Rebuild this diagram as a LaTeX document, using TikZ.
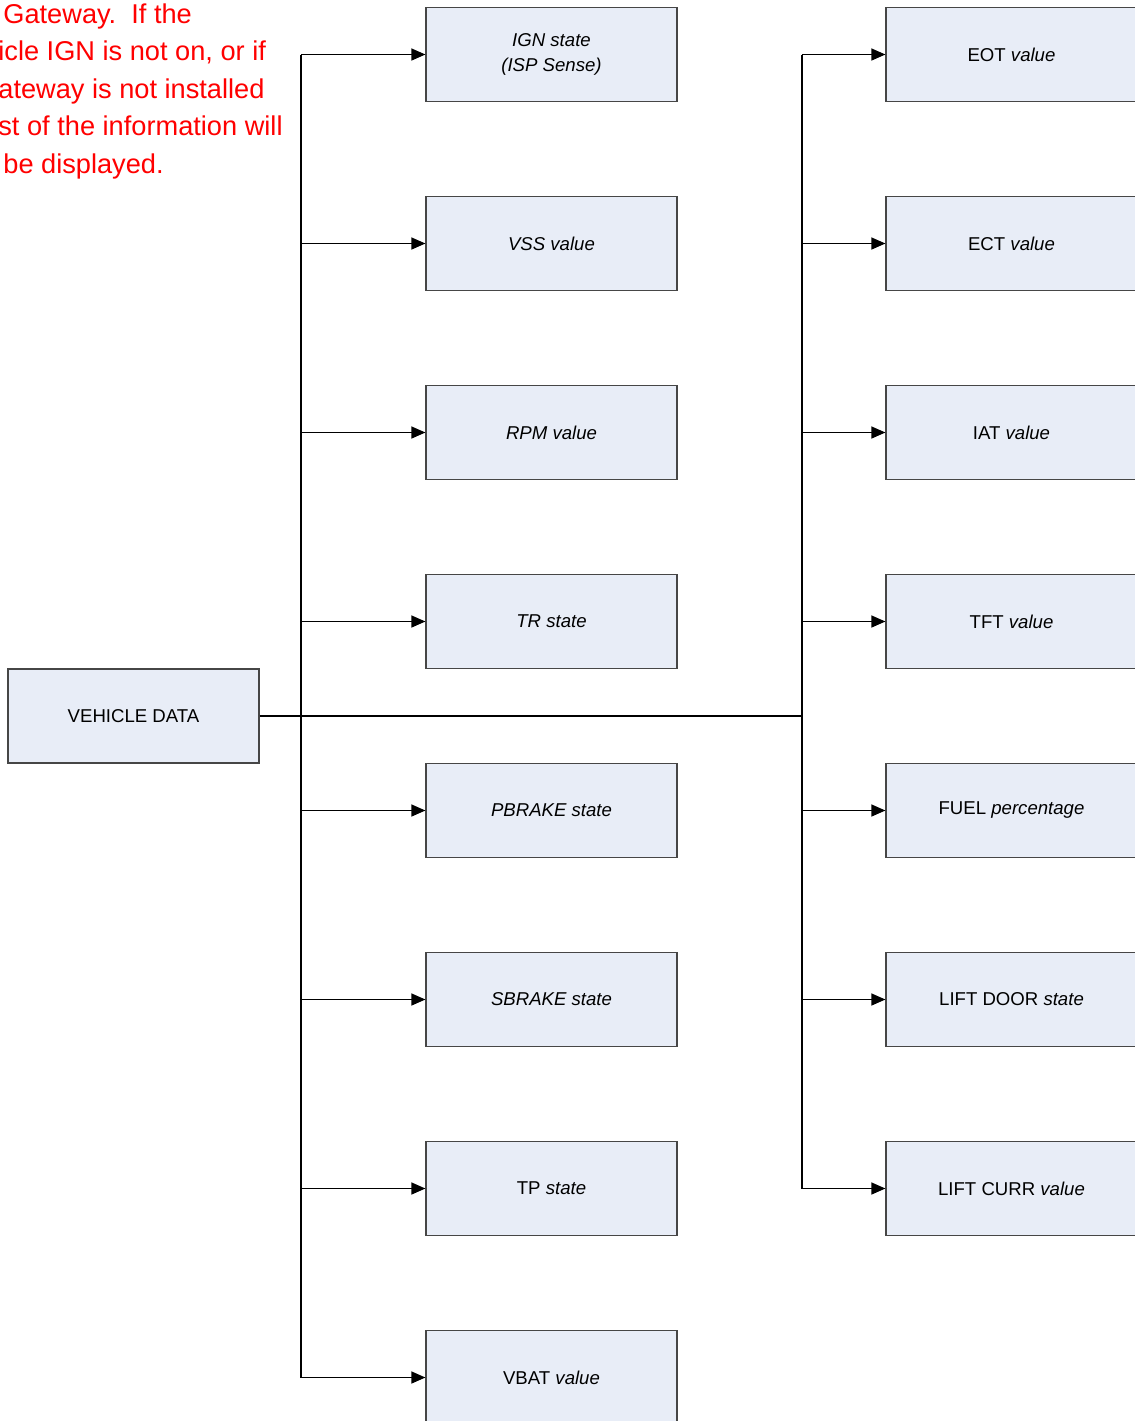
\documentclass[tikz,border=0pt]{standalone}
\usepackage{fontspec}
\setmainfont{Liberation Sans}
\usetikzlibrary{arrows.meta}

\definecolor{boxfill}{RGB}{232,237,247}
\definecolor{boxline}{RGB}{70,70,70}
\definecolor{notered}{RGB}{255,0,0}

\tikzset{
	databox/.style={draw=boxline, fill=boxfill, line width=0.6pt, minimum width=125.5pt, minimum height=47pt, inner sep=0pt, align=center, font=\fontsize{9.3}{12.5}\selectfont},
	bus/.style={line width=0.65pt},
	feed/.style={line width=0.65pt, -{Triangle[length=7pt, width=6pt]}}
}

\begin{document}
\begin{tikzpicture}[x=0.5pt, y=-0.5pt]
			%%%%% START %%%%%
			
			\useasboundingbox (0, 0) rectangle (1135, 1421);
			\clip (0, 0) rectangle (1135, 1421);
			
			% note (cut off on the left)
			\node[anchor=north west, inner sep=0pt, align=left, text=notered, font=\fontsize{13.6}{18.75}\selectfont] (note) at (-2, 3)
				{\hspace*{2.5pt}Gateway.\ \ If the\\
				icle IGN is not on, or if\\
				ateway is not installed\\
				st of the information will\\
				\hspace*{2.5pt}be displayed.};
			
			% source
			\node[databox] (vd) at (133.5, 716) {VEHICLE DATA};
			
			% left column
			\node[databox] (ign) at (551.5, 54.5) {\textit{IGN state}\\\textit{(ISP Sense)}};
			\node[databox] (vss) at (551.5, 243.5) {\textit{VSS value}};
			\node[databox] (rpm) at (551.5, 432.5) {\textit{RPM value}};
			\node[databox] (tr) at (551.5, 621.5) {\textit{TR state}};
			\node[databox] (pbrake) at (551.5, 810.5) {\textit{PBRAKE state}};
			\node[databox] (sbrake) at (551.5, 999.5) {\textit{SBRAKE state}};
			\node[databox] (tp) at (551.5, 1188.5) {TP \textit{state}};
			\node[databox] (vbat) at (551.5, 1377.5) {VBAT \textit{value}};
			
			% right column
			\node[databox] (eot) at (1011.5, 54.5) {EOT \textit{value}};
			\node[databox] (ect) at (1011.5, 243.5) {ECT \textit{value}};
			\node[databox] (iat) at (1011.5, 432.5) {IAT \textit{value}};
			\node[databox] (tft) at (1011.5, 621.5) {TFT \textit{value}};
			\node[databox] (fuel) at (1011.5, 810.5) {FUEL \textit{percentage}};
			\node[databox] (door) at (1011.5, 999.5) {LIFT DOOR \textit{state}};
			\node[databox] (curr) at (1011.5, 1188.5) {LIFT CURR \textit{value}};
			
			% buses
			\coordinate (lbus) at (301, 716);
			\coordinate (rbus) at (802, 716);
			\draw[bus] (vd.east) -- (rbus);
			\draw[bus] (ign.west -| lbus) -- (vbat.west -| lbus);
			\draw[bus] (eot.west -| rbus) -- (curr.west -| rbus);
			
			\draw[feed] (ign.west -| lbus) -- (ign.west);
			\draw[feed] (vss.west -| lbus) -- (vss.west);
			\draw[feed] (rpm.west -| lbus) -- (rpm.west);
			\draw[feed] (tr.west -| lbus) -- (tr.west);
			\draw[feed] (pbrake.west -| lbus) -- (pbrake.west);
			\draw[feed] (sbrake.west -| lbus) -- (sbrake.west);
			\draw[feed] (tp.west -| lbus) -- (tp.west);
			\draw[feed] (vbat.west -| lbus) -- (vbat.west);
			
			\draw[feed] (eot.west -| rbus) -- (eot.west);
			\draw[feed] (ect.west -| rbus) -- (ect.west);
			\draw[feed] (iat.west -| rbus) -- (iat.west);
			\draw[feed] (tft.west -| rbus) -- (tft.west);
			\draw[feed] (fuel.west -| rbus) -- (fuel.west);
			\draw[feed] (door.west -| rbus) -- (door.west);
			\draw[feed] (curr.west -| rbus) -- (curr.west);
			
			%%%%% END %%%%%
		\end{tikzpicture}
\end{document}
